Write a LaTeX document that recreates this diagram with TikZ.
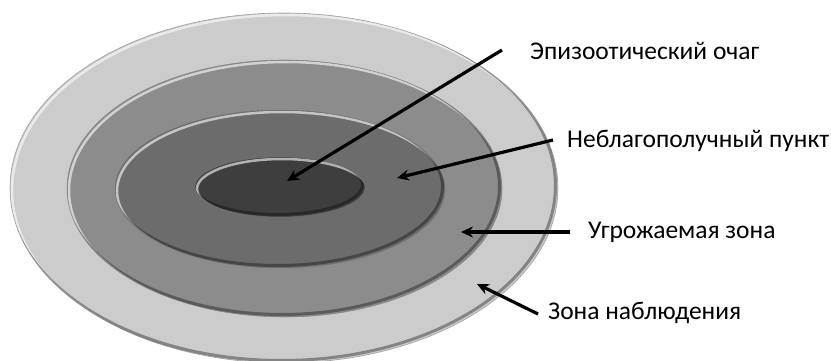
\documentclass[tikz,border=0pt]{standalone}
\usepackage{fontspec}
\setmainfont{Carlito}
\usetikzlibrary{arrows.meta}
\definecolor{zoneA}{RGB}{204,204,204}
\definecolor{zoneB}{RGB}{140,140,140}
\definecolor{zoneC}{RGB}{108,108,108}
\definecolor{zoneD}{RGB}{62,62,62}
\tikzset{
  lbl/.style={anchor=west, inner sep=0pt, font=\fontsize{25.5}{28}\selectfont},
  pointer/.style={line width=3.2pt, -{Stealth[length=12pt,width=11pt]}},
}
\newcommand{\bevelzone}[5]{%
  % #1 cx, #2 cy, #3 rx, #4 ry, #5 color
  \fill[#5] (#1,#2) ellipse ({#3} and {#4});
  \begin{scope}
    \clip (#1,#2) ellipse ({#3} and {#4});
    \draw[white, opacity=0.6, line width=2.5pt] (#1+2,#2+2) ellipse ({#3} and {#4});
    \draw[black, opacity=0.35, line width=3pt] (#1-2.5,#2-2.5) ellipse ({#3} and {#4});
  \end{scope}
  \draw[black!55, opacity=0.6, line width=0.6pt] (#1,#2) ellipse ({#3} and {#4});
}
\begin{document}
\begin{tikzpicture}[x=1pt,y=-1pt]
\useasboundingbox (0,0) rectangle (831,361);
\fill[white] (0,0) rectangle (831,361);
\bevelzone{284}{188}{274}{175}{zoneA}
\bevelzone{284.5}{188.5}{217.5}{128.5}{zoneB}
\bevelzone{280}{189}{165}{79}{zoneC}
\bevelzone{280}{187}{85}{30}{zoneD}

\node[lbl] (t1) at (530,51) {Эпизоотический очаг};
\node[lbl] (t2) at (567,141) {Неблагополучный пункт};
\node[lbl] (t3) at (588,232) {Угрожаемая зона};
\node[lbl] (t4) at (548,313) {Зона наблюдения};

\coordinate (s1) at (502,50);
\coordinate (e1) at (287,181);
\coordinate (s2) at (553,140);
\coordinate (e2) at (397,178);
\coordinate (s3) at (570,232);
\coordinate (e3) at (461,232);
\coordinate (s4) at (538,314);
\coordinate (e4) at (477,284);

\draw[pointer] (s1) -- (e1);
\draw[pointer] (s2) -- (e2);
\draw[pointer] (s3) -- (e3);
\draw[pointer] (s4) -- (e4);
\end{tikzpicture}
\end{document}
